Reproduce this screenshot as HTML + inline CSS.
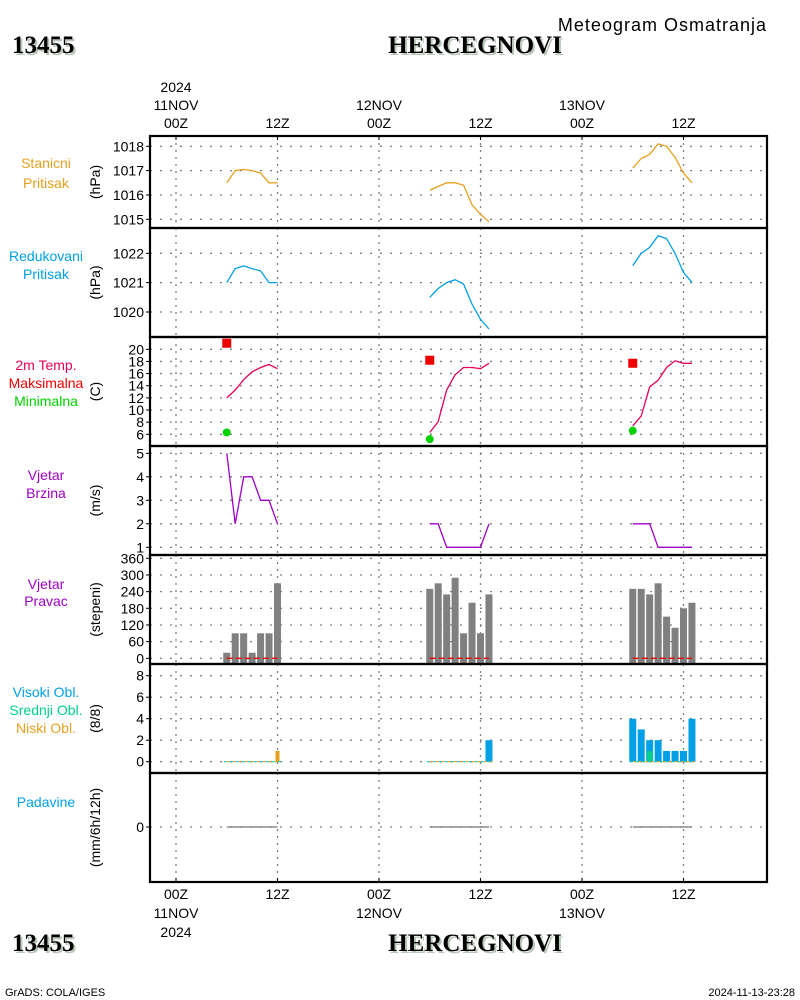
<!DOCTYPE html>
<html><head><meta charset="utf-8">
<style>
html,body{margin:0;padding:0;background:#fff;}
svg{display:block;font-family:"Liberation Sans",sans-serif;}
</style></head>
<body>
<svg id="chart" width="800" height="1000" viewBox="0 0 800 1000" xmlns="http://www.w3.org/2000/svg">
<g>
<text x="14" y="55" font-family="Liberation Serif,serif" font-weight="bold" font-size="25" fill="#b8c8b8">13455</text>
<text x="12" y="53" font-family="Liberation Serif,serif" font-weight="bold" font-size="25" fill="#000">13455</text>
<text x="477" y="55" text-anchor="middle" font-family="Liberation Serif,serif" font-weight="bold" font-size="25" fill="#b8c8b8">HERCEGNOVI</text>
<text x="475" y="53" text-anchor="middle" font-family="Liberation Serif,serif" font-weight="bold" font-size="25" fill="#000">HERCEGNOVI</text>
<text x="767" y="31" text-anchor="end" font-size="18" letter-spacing="1" fill="#000">Meteogram Osmatranja</text>
</g>
<g>
<text x="14" y="953" font-family="Liberation Serif,serif" font-weight="bold" font-size="25" fill="#b8c8b8">13455</text>
<text x="12" y="951" font-family="Liberation Serif,serif" font-weight="bold" font-size="25" fill="#000">13455</text>
<text x="477" y="953" text-anchor="middle" font-family="Liberation Serif,serif" font-weight="bold" font-size="25" fill="#b8c8b8">HERCEGNOVI</text>
<text x="475" y="951" text-anchor="middle" font-family="Liberation Serif,serif" font-weight="bold" font-size="25" fill="#000">HERCEGNOVI</text>
<text x="5" y="996" font-size="11" fill="#000">GrADS: COLA/IGES</text>
<text x="795" y="996" text-anchor="end" font-size="11" fill="#000">2024-11-13-23:28</text>
</g>
<g id="plot"></g>
</svg>
<script>
const hours = [6,7,8,9,10,11,12, 30,31,32,33,34,35,36,37, 54,55,56,57,58,59,60,61];
const stationP = [1016.5,1017.0,1017.05,1017.0,1016.9,1016.5,1016.5, 1016.2,1016.35,1016.5,1016.5,1016.4,1015.6,1015.2,1014.9, 1017.1,1017.5,1017.67,1018.1,1018.0,1017.55,1016.9,1016.5];
const reducedP = [1021.0,1021.48,1021.57,1021.48,1021.4,1021.0,1021.0, 1020.5,1020.8,1021.0,1021.1,1020.95,1020.27,1019.75,1019.42, 1021.58,1022.0,1022.2,1022.6,1022.5,1022.0,1021.35,1021.0];
const temp = [12,13.3,15,16.3,17,17.5,16.8, 6.3,8.1,13.3,15.8,17,17,16.8,17.7, 7.4,9,13.8,14.9,17,18.1,17.7,17.7];
const windSpeed = [5,2,4,4,3,3,2, 2,2,1,1,1,1,1,2, 2,2,2,1,1,1,1,1];
const windDir = [20,90,90,20,90,90,270, 250,270,230,290,90,200,90,230, 250,250,230,270,150,110,180,200];
const highCloud = [0,0,0,0,0,0,0, 0,0,0,0,0,0,0,2, 4,3,2,2,1,1,1,4];
const midCloud = [0,0,0,0,0,0,0, 0,0,0,0,0,0,0,0, 0,0,1,0,0,0,0,0];
const lowCloud = [0,0,0,0,0,0,1, 0,0,0,0,0,0,0,0, 0,0,0,0,0,0,0,0];
const precip = [0,0,0,0,0,0,0, 0,0,0,0,0,0,0,0, 0,0,0,0,0,0,0,0];
const extHours = [6,30,54];
const maxTemp = [21,18.2,17.7];
const minTemp = [6.3,5.2,6.6];
const timeTicks = [0,12,24,36,48,60];
const timeLabels = ["00Z","12Z","00Z","12Z","00Z","12Z"];
const dateLabels = ["11NOV","","12NOV","","13NOV",""];
const stationTicks = [1015,1016,1017,1018];
const reducedTicks = [1020,1021,1022];
const tempTicks = [6,8,10,12,14,16,18,20];
const speedTicks = [1,2,3,4,5];
const dirTicks = [0,60,120,180,240,300,360];
const cloudTicks = [0,2,4,6,8];
const precipTicks = [0];

const NS="http://www.w3.org/2000/svg";
const g=document.getElementById('plot');
const X0=150,X1=767;
const xs=h=>176+h*(101.5/12);
function lin(v0,y0,v1,y1){return v=>y0+(v-v0)*(y1-y0)/(v1-v0);}
const yStation=lin(1015,219.3,1018,146.3);
const yReduced=lin(1020,312,1022,253.3);
const yTemp=lin(6,434.3,20,349.3);
const ySpeed=lin(1,547.3,5,453.3);
const yDir=lin(0,658.3,360,558.3);
const yCloud=lin(0,761.7,8,675.7);
const yPrecip=lin(0,827,1,807);
function el(tag,attrs,parent){const e=document.createElementNS(NS,tag);for(const k in attrs)e.setAttribute(k,attrs[k]);(parent||g).appendChild(e);return e;}
function txt(s,attrs,parent){const e=el('text',attrs,parent);e.textContent=s;return e;}

const panels=[
 {top:136,bot:228,ticks:stationTicks,y:yStation,unit:"(hPa)",name:"station-pressure",labels:[["Stanicni","#e6a020"],["Pritisak","#e6a020"]],ly:[168,188]},
 {top:228,bot:337,ticks:reducedTicks,y:yReduced,unit:"(hPa)",name:"reduced-pressure",labels:[["Redukovani","#00a0e6"],["Pritisak","#00a0e6"]],ly:[261,279]},
 {top:337,bot:446,ticks:tempTicks,y:yTemp,unit:"(C)",name:"temperature",labels:[["2m Temp.","#e6005a"],["Maksimalna","#f00000"],["Minimalna","#00d200"]],ly:[370,388,406]},
 {top:446,bot:555,ticks:speedTicks,y:ySpeed,unit:"(m/s)",name:"wind-speed",labels:[["Vjetar","#a000c8"],["Brzina","#a000c8"]],ly:[480,498]},
 {top:555,bot:664,ticks:dirTicks,y:yDir,unit:"(stepeni)",name:"wind-direction",labels:[["Vjetar","#a000c8"],["Pravac","#a000c8"]],ly:[589,606]},
 {top:664,bot:773,ticks:cloudTicks,y:yCloud,unit:"(8/8)",name:"cloud-cover",labels:[["Visoki Obl.","#00a0e6"],["Srednji Obl.","#00d28c"],["Niski Obl.","#e6a020"]],ly:[697,715,733]},
 {top:773,bot:882,ticks:precipTicks,y:yPrecip,unit:"(mm/6h/12h)",name:"precipitation",labels:[["Padavine","#00a0e6"]],ly:[807]}
];

panels.forEach(p=>{
  const pg=el('g',{});
  
  
  timeTicks.forEach(h=>{
    const l=el('line',{x1:xs(h),x2:xs(h),y1:p.top,y2:p.bot,stroke:'#808080','stroke-width':1.3,'stroke-dasharray':'2,5'},pg);
    
    
  });
  p.ticks.forEach(t=>{
    const y=p.y(t);
    const l=el('line',{x1:X0,x2:X1,y1:y,y2:y,stroke:'#808080','stroke-width':1.3,'stroke-dasharray':'2,8'},pg);
    
    
    el('line',{x1:X0-4,x2:X0,y1:y,y2:y,stroke:'#000','stroke-width':1},pg);
    const tl=txt(String(t),{x:X0-6,y:y+5,'text-anchor':'end','font-size':14,fill:'#000'},pg);
    
    
  });
  const cy=(p.top+p.bot)/2;
  const ut=txt(p.unit,{x:0,y:0,'text-anchor':'middle','font-size':14,fill:'#000',transform:`translate(100,${cy}) rotate(-90)`},pg);
  
  
  p.labels.forEach((lb,i)=>{
    const t=txt(lb[0],{x:46,y:p.ly[i],'text-anchor':'middle','font-size':14,fill:lb[1]},pg);
    
    
  });
});

function segments(vals){
  const segs=[];let cur=[];
  hours.forEach((h,i)=>{
    if(i>0 && h-hours[i-1]>1){segs.push(cur);cur=[];}
    cur.push([h,vals[i]]);
  });
  segs.push(cur);return segs;
}
function drawLine(vals,yf,color,name){
  segments(vals).forEach(s=>{
    const d=s.map((pt,i)=>(i?'L':'M')+xs(pt[0]).toFixed(1)+','+yf(pt[1]).toFixed(1)).join('');
    const p=el('path',{d:d,fill:'none',stroke:color,'stroke-width':1.3});
    
    
  });
}
drawLine(stationP,yStation,'#e6a020','station-pressure-line');
drawLine(reducedP,yReduced,'#00a0e6','reduced-pressure-line');
drawLine(temp,yTemp,'#e6005a','temperature-line');
drawLine(windSpeed,ySpeed,'#a000c8','wind-speed-line');

extHours.forEach((h,i)=>{
  const r=el('rect',{x:xs(h)-4.5,y:yTemp(maxTemp[i])-4.5,width:9,height:9,fill:'#f00000'});
  
  
  const c=el('circle',{cx:xs(h),cy:yTemp(minTemp[i]),r:4,fill:'#00d200'});
  
  
});

hours.forEach((h,i)=>{
  const x=xs(h);
  const b=el('rect',{x:x-3.5,y:yDir(windDir[i]),width:7,height:yDir(0)-yDir(windDir[i])+5,fill:'#808080'});
  
  
  if(highCloud[i]>0){
    const r=el('rect',{x:x-3.5,y:yCloud(highCloud[i]),width:7,height:yCloud(0)-yCloud(highCloud[i]),fill:'#00a0e6'});
    
    
  }
  if(midCloud[i]>0){
    const r=el('rect',{x:x-2.8,y:yCloud(midCloud[i]),width:5.6,height:yCloud(0)-yCloud(midCloud[i]),fill:'#00d28c'});
    
    
  }
  if(lowCloud[i]>0){
    const r=el('rect',{x:x-2,y:yCloud(lowCloud[i]),width:4,height:yCloud(0)-yCloud(lowCloud[i]),fill:'#e6a020'});
    
    
  }
});
segments(windDir).forEach(s=>{
  const l=el('line',{x1:xs(s[0][0]),x2:xs(s[s.length-1][0]),y1:yDir(0),y2:yDir(0),stroke:'#f00000','stroke-width':1.3,'stroke-dasharray':'6,3'});
  
  
});
segments(highCloud).forEach(s=>{
  const a=el('line',{x1:xs(s[0][0])-3,x2:xs(s[s.length-1][0])+3,y1:yCloud(0),y2:yCloud(0),stroke:'#00c8c8','stroke-width':1.2,'stroke-dasharray':'3,3'});
  
  
  const b=el('line',{x1:xs(s[0][0])-3,x2:xs(s[s.length-1][0])+3,y1:yCloud(0),y2:yCloud(0),stroke:'#e6a020','stroke-width':1.2,'stroke-dasharray':'3,3','stroke-dashoffset':3});
  
  
});
segments(precip).forEach(s=>{
  const d=s.map((pt,i)=>(i?'L':'M')+xs(pt[0]).toFixed(1)+','+yPrecip(pt[1]).toFixed(1)).join('');
  const p=el('path',{d:d,fill:'none',stroke:'#505050','stroke-width':1});
  
  
});

panels.forEach(p=>{
  const r=el('rect',{x:X0,y:p.top,width:X1-X0,height:p.bot-p.top,fill:'none',stroke:'#000','stroke-width':2.2});
  
  
});
timeTicks.forEach((h,i)=>{
  const x=xs(h);
  el('line',{x1:x,x2:x,y1:136,y2:140,stroke:'#000','stroke-width':1});
  el('line',{x1:x,x2:x,y1:878,y2:882,stroke:'#000','stroke-width':1});
  const t1=txt(timeLabels[i],{x:x,y:128,'text-anchor':'middle','font-size':14,fill:'#000'});
  
  
  const t2=txt(timeLabels[i],{x:x,y:899,'text-anchor':'middle','font-size':14,fill:'#000'});
  
  
  if(dateLabels[i]){
    const d1=txt(dateLabels[i],{x:x,y:110,'text-anchor':'middle','font-size':14,fill:'#000'});
    
    
    const d2=txt(dateLabels[i],{x:x,y:918,'text-anchor':'middle','font-size':14,fill:'#000'});
    
    
  }
});
const y1=txt("2024",{x:xs(0),y:92,'text-anchor':'middle','font-size':14,fill:'#000'});


const y2=txt("2024",{x:xs(0),y:937,'text-anchor':'middle','font-size':14,fill:'#000'});


</script>
</body></html>
